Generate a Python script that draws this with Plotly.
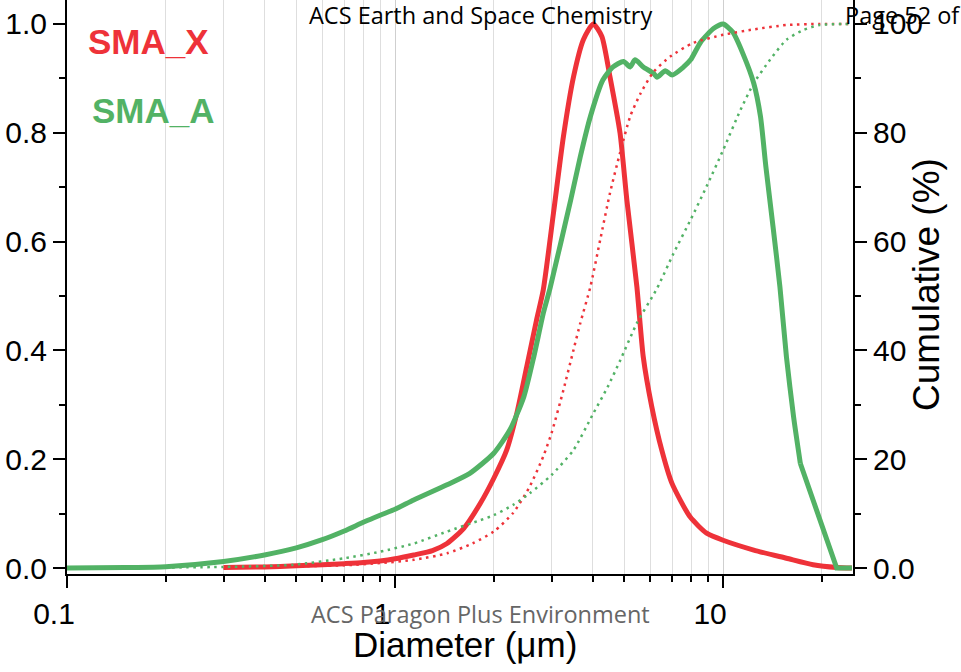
import plotly.graph_objects as go

# ---- SMA_X : normalised frequency vs diameter (um)
smax_d = [0.30, 0.40, 0.50, 0.60, 0.70, 0.80, 0.90, 1.00, 1.14, 1.30, 1.44, 1.62, 1.82,
          2.00, 2.19, 2.35, 2.52, 2.70, 2.83, 3.04, 3.26, 3.50, 3.75, 4.02, 4.27, 4.52,
          4.85, 5.09, 5.46, 5.71, 6.06, 6.50, 6.98, 7.93, 8.91, 10.0, 12.4, 15.6, 18.8,
          22.2, 24.7]
smax_freq = [0.001, 0.002, 0.004, 0.006, 0.008, 0.010, 0.013, 0.017, 0.024, 0.032, 0.045,
             0.073, 0.119, 0.165, 0.217, 0.284, 0.370, 0.456, 0.511, 0.652, 0.793, 0.903,
             0.971, 1.000, 0.977, 0.903, 0.800, 0.676, 0.517, 0.388, 0.297, 0.217, 0.156,
             0.094, 0.064, 0.051, 0.033, 0.018, 0.006, 0.001, 0.000]

# ---- SMA_A : normalised frequency vs diameter (um)
smaa_d = [0.10, 0.15, 0.20, 0.30, 0.40, 0.50, 0.60, 0.70, 0.80, 0.90, 1.00, 1.14, 1.44,
          1.69, 2.00, 2.24, 2.47, 2.65, 2.83, 2.97, 3.43, 3.67, 3.94, 4.30, 4.62, 4.97,
          5.21, 5.39, 5.71, 6.14, 6.29, 6.67, 6.99, 7.58, 7.96, 8.55, 9.37, 10.0, 10.7,
          11.5, 12.4, 13.0, 13.5, 14.2, 14.9, 15.6, 16.4, 17.2]
smaa_freq = [0.000, 0.001, 0.0025, 0.012, 0.024, 0.037, 0.052, 0.068, 0.084, 0.097, 0.108,
             0.125, 0.153, 0.174, 0.211, 0.254, 0.315, 0.389, 0.468, 0.515, 0.676, 0.756,
             0.830, 0.897, 0.921, 0.931, 0.921, 0.934, 0.921, 0.909, 0.902, 0.914, 0.906,
             0.921, 0.934, 0.967, 0.992, 1.000, 0.985, 0.945, 0.891, 0.830, 0.738, 0.627,
             0.517, 0.388, 0.278, 0.192]
# coarse tail of SMA_A (straight segments to the last channel)
smaa_tail_d = [17.2, 22.2, 24.7]
smaa_tail_freq = [0.192, 0.000, 0.000]

# ---- cumulative distributions (%)
smax_cum_d = [0.30, 0.50, 0.70, 0.90, 1.14, 1.44, 1.72, 2.00, 2.29, 2.57, 2.83, 3.00, 3.26,
              3.50, 3.67, 3.94, 4.22, 4.52, 4.86, 5.21, 5.61, 6.14, 6.90, 8.10, 10.0, 12.4,
              15.6, 19.7, 24.7]
smax_cum = [0.0, 0.3, 0.5, 0.9, 1.5, 2.7, 4.5, 6.7, 10.1, 14.9, 20.5, 24.8, 32.7, 40.1, 45.0,
            51.7, 60.3, 68.9, 76.5, 83.0, 87.3, 91.2, 94.0, 96.5, 98.0, 99.0, 99.8, 100.0, 100.0]

smaa_cum_d = [0.10, 0.30, 0.49, 0.70, 0.90, 1.14, 1.44, 1.82, 2.00, 2.29, 2.57, 3.00, 3.50,
              4.02, 4.45, 4.86, 5.46, 6.29, 7.06, 7.96, 8.90, 10.0, 11.3, 12.4, 13.9, 15.6,
              17.6, 19.7, 24.7]
smaa_cum = [0.0, 0.2, 0.6, 1.8, 3.0, 4.5, 6.7, 8.8, 9.7, 11.6, 13.7, 17.1, 21.7, 28.4, 33.3,
            38.2, 45.0, 51.4, 57.8, 64.0, 70.1, 76.8, 84.2, 89.1, 93.4, 97.1, 98.9, 99.8, 100.0]

# ---- axis ticks
x_major = [0.1, 1, 10]
x_major_text = ["0.1", "1", "10"]
x_minor = [0.2, 0.3, 0.4, 0.5, 0.6, 0.7, 0.8, 0.9, 2, 3, 4, 5, 6, 7, 8, 9, 20]
y_major = [0.0, 0.2, 0.4, 0.6, 0.8, 1.0]
y_major_text = ["0.0", "0.2", "0.4", "0.6", "0.8", "1.0"]
y_minor = [0.1, 0.3, 0.5, 0.7, 0.9]
y2_major = [0, 20, 40, 60, 80, 100]
y2_major_text = ["0.0", "20", "40", "60", "80", "100"]
y2_minor = [10, 30, 50, 70, 90]

RED = "#ee3239"
GREEN = "#52b265"
AXFONT = "Liberation Sans, Arial, sans-serif"
DOCFONT = "Open Sans, Noto Sans, sans-serif"
DOTS = "2.5px,4.5px"

fig = go.Figure()
fig.add_trace(go.Scatter(x=smax_d, y=smax_freq, mode="lines", name="SMA_X",
                         line=dict(color=RED, width=5, shape="spline", smoothing=0.6)))
fig.add_trace(go.Scatter(x=smaa_d, y=smaa_freq, mode="lines", name="SMA_A",
                         line=dict(color=GREEN, width=5, shape="spline", smoothing=0.6)))
fig.add_trace(go.Scatter(x=smaa_tail_d, y=smaa_tail_freq, mode="lines", name="SMA_A",
                         line=dict(color=GREEN, width=5)))
fig.add_trace(go.Scatter(x=smax_cum_d, y=smax_cum, mode="lines", yaxis="y2",
                         name="SMA_X cumulative",
                         line=dict(color=RED, width=2.5, dash=DOTS, shape="spline",
                                   smoothing=0.6)))
fig.add_trace(go.Scatter(x=smaa_cum_d, y=smaa_cum, mode="lines", yaxis="y2",
                         name="SMA_A cumulative",
                         line=dict(color=GREEN, width=2.5, dash=DOTS, shape="spline",
                                   smoothing=0.6)))

fig.update_layout(
    width=961, height=672,
    margin=dict(l=67, r=108, t=0, b=98),
    paper_bgcolor="white", plot_bgcolor="white",
    showlegend=False,
    font=dict(family=AXFONT, color="black", size=30),
    xaxis=dict(
        type="log", range=[-1, 1.396],
        showline=True, linecolor="black", linewidth=2,
        ticks="outside", ticklen=12, tickwidth=1.5, tickcolor="black",
        tickvals=x_major, ticktext=x_major_text,
        tickfont=dict(size=30, family=AXFONT),
        ticklabelshift=-13, ticklabelstandoff=0,
        showgrid=True, gridcolor="#cfcfcf", gridwidth=1,
        minor=dict(tickvals=x_minor, ticks="outside", ticklen=6, tickwidth=1.5,
                   tickcolor="black", showgrid=True, gridcolor="#dedede", gridwidth=1),
        zeroline=False,
    ),
    yaxis=dict(
        range=[-0.011, 1.044],
        showline=True, linecolor="black", linewidth=2,
        ticks="outside", ticklen=12, tickwidth=1.5, tickcolor="black",
        tickvals=y_major, ticktext=y_major_text,
        tickfont=dict(size=30, family=AXFONT),
        showgrid=False, zeroline=False,
        minor=dict(tickvals=y_minor, ticks="outside", ticklen=6, tickwidth=1.5,
                   tickcolor="black", showgrid=False),
    ),
    yaxis2=dict(
        overlaying="y", side="right",
        range=[-1.1, 104.4],
        showline=True, linecolor="black", linewidth=2,
        ticks="outside", ticklen=12, tickwidth=1.5, tickcolor="black",
        tickvals=y2_major, ticktext=y2_major_text,
        tickfont=dict(size=30, family=AXFONT),
        showgrid=False, zeroline=False,
        minor=dict(tickvals=y2_minor, ticks="outside", ticklen=6, tickwidth=1.5,
                   tickcolor="black", showgrid=False),
    ),
)

PLOT_W = 786.0
PLOT_H = 574.0


def px_x(x):
    return (x - 67) / PLOT_W


def px_y(y):
    return (574 - y) / PLOT_H


texts = [
    ("Diameter (\u03bcm)", 465, 644, 35, AXFONT, "black", 0),
    ("Cumulative (%)", 926, 284, 37, AXFONT, "black", -90),
    ("<b>SMA_X</b>", 148, 42, 35, AXFONT, RED, 0),
    ("<b>SMA_A</b>", 153, 111, 35, AXFONT, GREEN, 0),
    ("ACS Earth and Space Chemistry", 480, 15, 23.5, DOCFONT, "black", 0),
    ("Page 52 of", 902, 15, 23.5, DOCFONT, "black", 0),
    ("ACS Paragon Plus Environment", 480, 614, 23.5, DOCFONT, "#666666", 0),
]
for t, x, y, s, fam, col, ang in texts:
    fig.add_annotation(text=t, x=px_x(x), y=px_y(y), xref="paper", yref="paper",
                       xanchor="center", yanchor="middle", showarrow=False,
                       textangle=ang, font=dict(size=s, family=fam, color=col))

fig.write_html("out.html")
